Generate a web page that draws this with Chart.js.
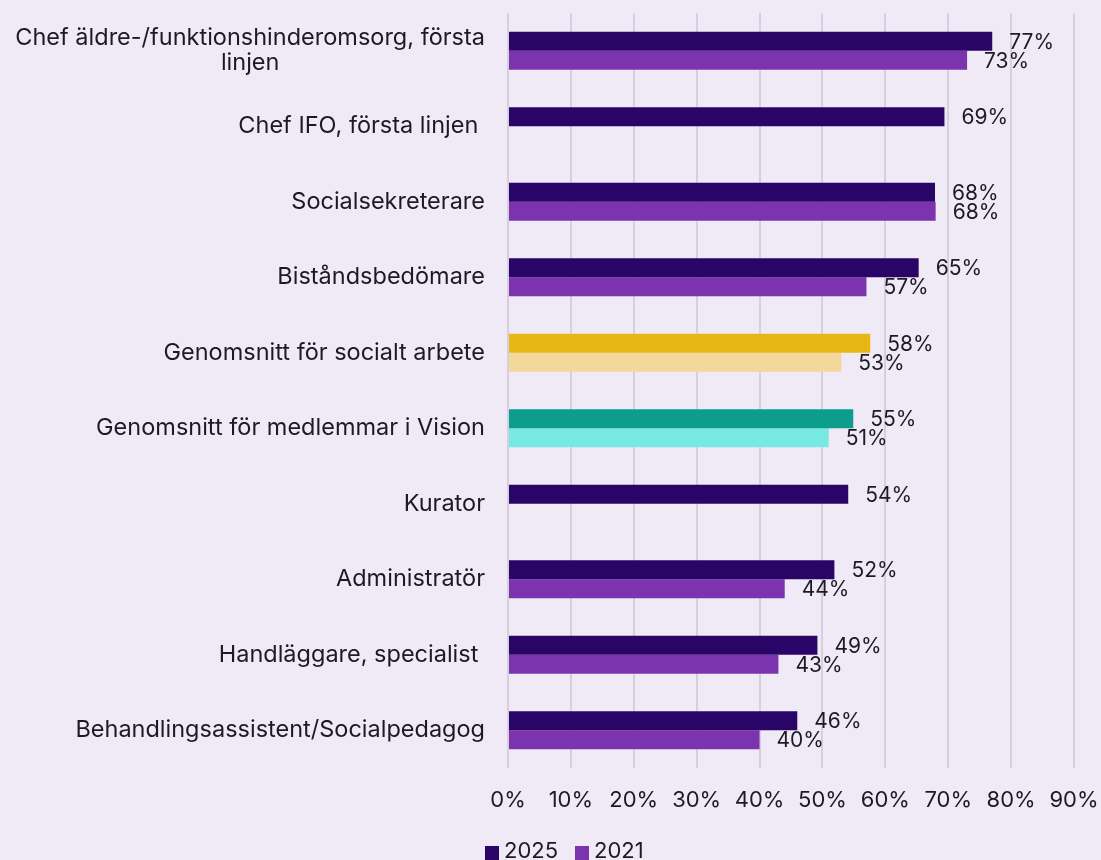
<!DOCTYPE html>
<html><head><meta charset="utf-8">
<script src="https://cdn.jsdelivr.net/npm/chart.js@4.4.1/dist/chart.umd.min.js"></script>
<style>html,body{margin:0;padding:0;background:#f0eaf6;}#wrap{width:1101px;height:860px;}</style>
</head><body><div id="wrap"><canvas id="c" width="1101" height="860"></canvas></div>
<script>
const categories = [["Chef äldre-/funktionshinderomsorg, första","linjen"], "Chef IFO, första linjen ", "Socialsekreterare", "Biståndsbedömare", "Genomsnitt för socialt arbete", "Genomsnitt för medlemmar i Vision", "Kurator", "Administratör", "Handläggare, specialist ", "Behandlingsassistent/Socialpedagog"];
const values2025 = [77, 69.4, 67.9, 65.3, 57.6, 54.9, 54.1, 51.9, 49.2, 46];
const values2021 = [73, null, 68, 57, 53, 51, null, 44, 43, 40];
const xTicks = [0,10,20,30,40,50,60,70,80,90];
const seriesNames = ["2025","2021"];

const C2025 = '#2a0568', C2021 = '#7b34ad';
const colors2025 = [C2025,C2025,C2025,C2025,'#e9b714','#0d9d8c',C2025,C2025,C2025,C2025];
const colors2021 = [C2021,C2021,C2021,C2021,'#f2d89a','#76eae2',C2021,C2021,C2021,C2021];
const FONT = 'Inter';
const TXT = '#1d1a24';

const customDraw = {
  id: 'customDraw',
  beforeDraw(chart){ const c=chart.ctx; c.save(); c.fillStyle='#f0eaf6'; c.fillRect(0,0,chart.width,chart.height); c.restore(); },
  afterDraw(chart){
    const ctx = chart.ctx; const y = chart.scales.y;
    ctx.save();
    ctx.fillStyle = TXT; ctx.textBaseline = 'middle';
    // y labels
    ctx.font = '23.5px ' + FONT;
    categories.forEach((lab,i)=>{
      const cy = y.getPixelForValue(i);
      const right = 485;
      if (Array.isArray(lab)) {
        const w = ctx.measureText(lab[0]).width;
        const cx = right - w/2; const lh = 25;
        ctx.textAlign='center';
        lab.forEach((l,k)=>ctx.fillText(l, cx, cy + (k-(lab.length-1)/2)*lh));
      } else { ctx.textAlign='right'; ctx.fillText(lab, right, cy); }
    });
    // value labels
    ctx.font = '21px ' + FONT;
    ctx.textAlign='left';
    chart.data.datasets.forEach((ds,di)=>{
      const meta = chart.getDatasetMeta(di);
      meta.data.forEach((el,i)=>{ const v=ds.data[i]; if(v==null) return; ctx.fillText(Math.round(v)+'%', el.x+17, el.y+1); });
    });
    // legend
    ctx.font = '22px ' + FONT;
    const items=[{c:C2025,t:seriesNames[0],x:485},{c:C2021,t:seriesNames[1],x:575}];
    items.forEach(it=>{ ctx.fillStyle=it.c; ctx.fillRect(it.x,846,14,15); ctx.fillStyle=TXT; ctx.textAlign='left'; ctx.fillText(it.t,it.x+19,851); });
    ctx.restore();
  }
};

new Chart(document.getElementById('c'), {
  type:'bar',
  data:{ labels: categories, datasets:[
    {label:seriesNames[0], data:values2025, backgroundColor:colors2025, barPercentage:1, categoryPercentage:0.503},
    {label:seriesNames[1], data:values2021, backgroundColor:colors2021, barPercentage:1, categoryPercentage:0.503}
  ]},
  options:{
    indexAxis:'y', responsive:false, animation:false, devicePixelRatio:1,
    layout:{padding:{top:13,right:27,left:0,bottom:0}},
    plugins:{legend:{display:false}, tooltip:{enabled:false}},
    scales:{
      y:{ ticks:{display:false}, grid:{display:false}, border:{display:false},
          afterFit(s){ s.width = 508; } },
      x:{ min:0, max:90, afterBuildTicks(s){ s.ticks = xTicks.map(v=>({value:v})); },
          ticks:{ callback:v=>v+'%', font:{family:FONT,size:22}, color:TXT, padding:19, maxRotation:0 },
          grid:{ color:'#d6d0de', lineWidth:2, drawTicks:false }, border:{display:false},
          afterFit(s){ s.height = 92; s.paddingLeft = 0; s.paddingRight = 0; } }
    }
  },
  plugins:[customDraw]
});
</script></body></html>
